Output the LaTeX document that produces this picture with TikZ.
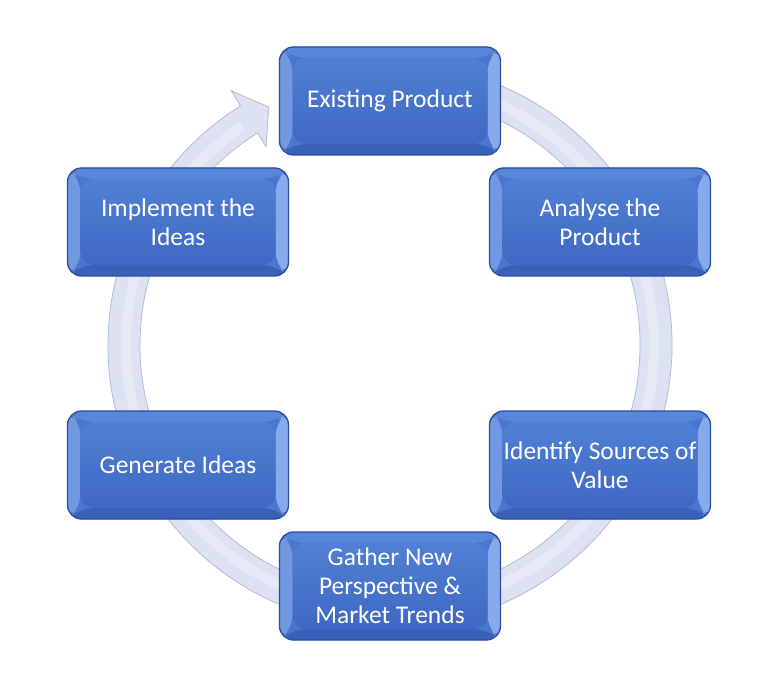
\documentclass[tikz,border=0pt]{standalone}
\usepackage{fontspec}
\setmainfont{Carlito}
\definecolor{boxedge}{HTML}{2B4C9E}
\definecolor{boxface}{HTML}{4A76CF}
\definecolor{facetop}{HTML}{5080D5}
\definecolor{facebot}{HTML}{3F68C2}
\definecolor{bevleft}{HTML}{7398E2}
\definecolor{bevright}{HTML}{86AAEC}
\definecolor{bevtop}{HTML}{5886D8}
\definecolor{bevbot}{HTML}{3A61BA}
\definecolor{ringfill}{HTML}{DCE2F2}
\definecolor{ringedge}{HTML}{B3BCD6}
\begin{document}
\begin{tikzpicture}[x=1pt,y=1pt]
% looks of the stages and of the ring
\tikzset{
  stage/.style={rectangle, rounded corners=14pt, draw=boxedge, line width=1.3pt,
    fill=boxface, minimum width=221pt, minimum height=108pt, align=center,
    text=white, font=\fontsize{25.5}{29}\selectfont,
    path picture={
      \fill[bevleft] (path picture bounding box.south west) -- (path picture bounding box.north west)
        -- ([shift={(13pt,-11pt)}]path picture bounding box.north west) -- ([shift={(13pt,11pt)}]path picture bounding box.south west) -- cycle;
      \fill[bevright] (path picture bounding box.south east) -- (path picture bounding box.north east)
        -- ([shift={(-13pt,-11pt)}]path picture bounding box.north east) -- ([shift={(-13pt,11pt)}]path picture bounding box.south east) -- cycle;
      \fill[bevtop] (path picture bounding box.north west) -- (path picture bounding box.north east)
        -- ([shift={(-13pt,-11pt)}]path picture bounding box.north east) -- ([shift={(13pt,-11pt)}]path picture bounding box.north west) -- cycle;
      \fill[bevbot] (path picture bounding box.south west) -- (path picture bounding box.south east)
        -- ([shift={(-13pt,11pt)}]path picture bounding box.south east) -- ([shift={(13pt,11pt)}]path picture bounding box.south west) -- cycle;
      \shade[top color=facetop, bottom color=facebot] ([shift={(13pt,11pt)}]path picture bounding box.south west) rectangle ([shift={(-13pt,-11pt)}]path picture bounding box.north east);
    }},
  ring/.style={fill=ringfill, draw=ringedge, line width=0.8pt}
}
\useasboundingbox (0,0) rectangle (775,694);

% circular arrow
\coordinate (c) at (390,349);
\path[ring] ([shift={(80:282)}]c) arc[start angle=80, end angle=-238, radius=282]
  -- ([shift={(-238:300)}]c) -- ([shift={(-243:267)}]c) -- ([shift={(-238:234)}]c)
  -- ([shift={(-238:250)}]c) arc[start angle=-238, end angle=80, radius=250] -- cycle;
\draw[white, opacity=0.3, line width=10pt] ([shift={(80:264)}]c) arc[start angle=80, end angle=-236, radius=264];

% stages
\node[stage] (exist) at (390,593) {Existing Product};
\node[stage] (analyse) at (600,472) {Analyse the\\Product};
\node[stage] (identify) at (600,229) {Identify Sources of\\Value};
\node[stage] (gather) at (390,108) {Gather New\\Perspective \&\\Market Trends};
\node[stage] (generate) at (178,229) {Generate Ideas};
\node[stage] (implement) at (178,472) {Implement the\\Ideas};
\end{tikzpicture}
\end{document}
